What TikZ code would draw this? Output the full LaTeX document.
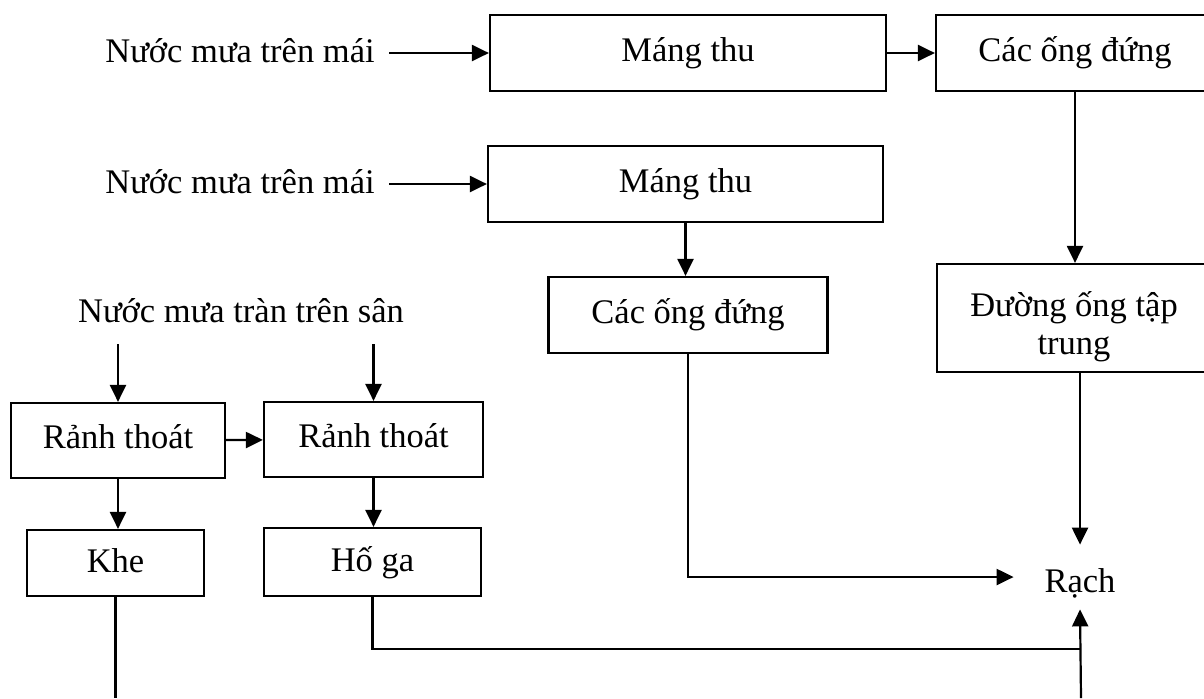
\documentclass[tikz,border=0pt]{standalone}
\usepackage{fontspec}
\setmainfont{Liberation Serif}
\usetikzlibrary{arrows.meta,positioning}

\begin{document}
\begin{tikzpicture}[x=0.5pt,y=-0.5pt]
  \tikzstyle{box}=[rectangle, draw, line width=1.1pt, minimum height=38pt, inner sep=0pt, align=center, text height=12pt, text depth=4pt, font=\fontsize{17.25}{19}\selectfont]
  \tikzstyle{lowbox}=[box, text height=13pt, text depth=3.5pt]
  \tikzstyle{src}=[inner sep=7pt, text height=13pt, text depth=4pt, font=\fontsize{17.25}{19}\selectfont]
  \tikzstyle{flow}=[line width=1.1pt, -{Triangle[length=8.5pt,width=8pt]}]
  \tikzstyle{pipe}=[line width=1.1pt]

  \useasboundingbox (0,0) rectangle (1204,698);
  \clip (0,0) rectangle (1204,698);

  % Mai thu nhat
  \node[src] (mai1) at (240,53) {Nước mưa trên mái};
  \node[box, minimum width=198pt] (mang1) at (688,53) {Máng thu};
  \node[box, minimum width=139pt] (ong1) at (1075,53) {Các ống đứng};
  \node[box, minimum width=137pt, minimum height=54pt, text height=40pt, text depth=4pt] (taptrung) at (1074,318) {Đường ống tập\\trung};
  % Mai thu hai
  \node[src] (mai2) at (240,184) {Nước mưa trên mái};
  \node[box, minimum width=197.5pt] (mang2) at (685.5,184) {Máng thu};
  \node[box, minimum width=139.5pt] (ong2) at (688,315) {Các ống đứng};
  % San
  \node[src] (san) at (241,313) {Nước mưa tràn trên sân};
  \node[box, minimum width=107pt, minimum height=37.5pt] (ranh1) at (118,440.5) {Rảnh thoát};
  \node[box, minimum width=109.5pt, minimum height=37.5pt] (ranh2) at (373.5,439.5) {Rảnh thoát};
  \node[lowbox, minimum width=88.5pt, minimum height=33pt] (khe) at (115.5,563) {Khe};
  \node[lowbox, minimum width=108.5pt, minimum height=34pt] (hoga) at (372.5,562) {Hố ga};
  % Rach
  \node[src, minimum width=66pt, minimum height=32pt, inner sep=0pt, text height=17pt, text depth=2pt] (rach) at (1080,577) {Rạch};
  \coordinate (kheout) at (116,698);
  \coordinate (rachin) at (1081,698);
  \coordinate (noi) at (1081,649);

  \draw[flow] (mai1) -- (mang1);
  \draw[flow] (mang1) -- (ong1);
  \draw[flow] (ong1.south) -- (ong1.south |- taptrung.north);
  \draw[flow] (rach.north |- taptrung.south) -- (rach.north);
  \draw[flow] (mai2) -- (mang2);
  \draw[flow] (mang2.south) -- (mang2.south |- ong2.north);
  \draw[flow] (ong2.south) |- (rach.west);
  \draw[flow] (ranh1.north |- san.south) -- (ranh1.north);
  \draw[flow] (ranh2.north |- san.south) -- (ranh2.north);
  \draw[flow] (ranh1) -- (ranh2);
  \draw[flow] (ranh1.south) -- (ranh1.south |- khe.north);
  \draw[flow] (ranh2.south) -- (ranh2.south |- hoga.north);
  \draw[pipe] (khe.south) -- (khe.south |- kheout);
  \draw[pipe] (hoga.south) |- (noi);
  \draw[flow] (rachin) -- (rach.south);
\end{tikzpicture}
\end{document}
